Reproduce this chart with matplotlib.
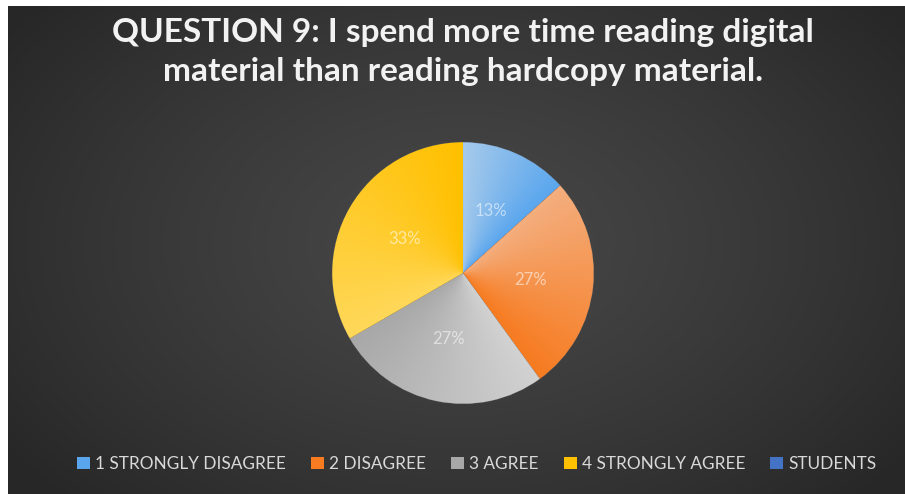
import numpy as np
import matplotlib.pyplot as plt
from matplotlib.patches import Patch
from matplotlib.colors import to_rgb

title = "QUESTION 9: I spend more time reading digital\nmaterial than reading hardcopy material."
labels = ["1 STRONGLY DISAGREE", "2 DISAGREE", "3 AGREE", "4 STRONGLY AGREE", "STUDENTS"]
counts = [2, 4, 4, 5, 0]
base_colors = ["#5AA6EE", "#F77B20", "#A8A8A8", "#FFC000", "#4472C4"]
light_colors = ["#A6CAEB", "#F4AE7E", "#D2D2D2", "#FFD85A", "#4472C4"]

W, H = 905, 494
fig = plt.figure(figsize=(W / 100, H / 100), dpi=100)
fig.patch.set_facecolor("white")

# dark chart area with a soft radial gradient
bg = fig.add_axes([8 / W, -0.01, 1.0, (H - 6) / H + 0.01])
yy, xx = np.mgrid[0:1:300j, 0:1:500j]
r = np.sqrt(((xx - 0.5) / 0.62) ** 2 + ((yy - 0.52) / 0.75) ** 2)
r = np.clip(r, 0, 1)
c0, c1 = np.array(to_rgb("#474747")), np.array(to_rgb("#272727"))
img = c0 + (c1 - c0) * r[..., None] ** 1.3
bg.imshow(img, extent=[0, 1, 0, 1], aspect="auto", origin="lower")
bg.set_axis_off()

fig.text(463 / W, 1 - 52 / H, title, ha="center", va="center", color="#F2F2F2",
         fontsize=24, fontweight="bold", family="Lato", linespacing=1.38)

# pie
R = 132
cx, cy = 463, H - 273
ax = fig.add_axes([(cx - R) / W, (cy - R) / H, 2 * R / W, 2 * R / H])
ax.set_axis_off()

vals = [c for c in counts if c > 0]
wedges, texts, autotexts = ax.pie(
    vals, colors=base_colors[:len(vals)], startangle=90, counterclock=False,
    radius=1, autopct="%1.0f%%", pctdistance=0.52,
    wedgeprops=dict(edgecolor="#5a5a5a", linewidth=0.6),
    textprops=dict(color="white", alpha=0.55, fontsize=12, family="Lato"))
ax.set_xlim(-1.01, 1.01)
ax.set_ylim(-1.01, 1.01)

# angular shading inside each slice, light on the leading edge
gy, gx = np.mgrid[-1:1:400j, -1:1:400j]
ang = np.degrees(np.arctan2(gy, gx)) % 360
for w, lc, bc in zip(wedges, light_colors, base_colors):
    span = w.theta2 - w.theta1
    t = np.clip(((w.theta2 - ang) % 360) / span, 0, 1)
    a, b = np.array(to_rgb(lc)), np.array(to_rgb(bc))
    shade = a + (b - a) * t[..., None]
    im = ax.imshow(shade, extent=[-1, 1, -1, 1], origin="lower", zorder=w.get_zorder() + 0.1)
    im.set_clip_path(w)
for t in autotexts:
    t.set_zorder(5)

handles = [Patch(facecolor=c, edgecolor="none") for c in base_colors]
fig.legend(handles, labels, loc="center", bbox_to_anchor=(477 / W, 1 - 464 / H),
           ncol=5, frameon=False, handlelength=0.75, handleheight=0.75,
           handletextpad=0.3, columnspacing=1.45, labelcolor="#D9D9D9",
           prop=dict(family="Lato", size=12.4))

fig.savefig("out.png", dpi=100)
